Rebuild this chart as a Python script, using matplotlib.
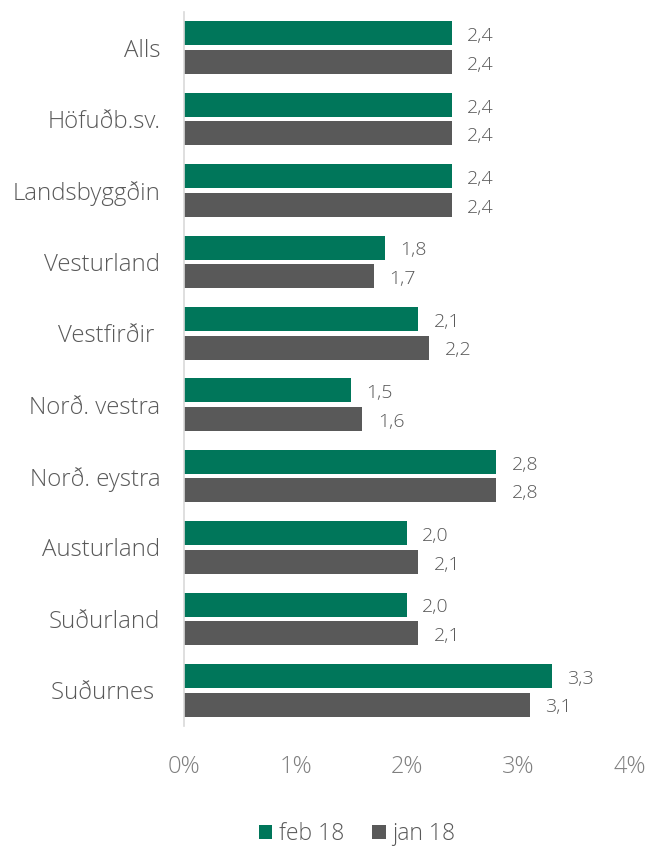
import numpy as np
import matplotlib.pyplot as plt

plt.rcParams['font.family'] = ['Open Sans', 'DejaVu Sans']
plt.rcParams['font.weight'] = 'light'

categories = ['Alls', 'Höfuðb.sv.', 'Landsbyggðin', 'Vesturland', 'Vestfirðir ',
              'Norð. vestra', 'Norð. eystra', 'Austurland', 'Suðurland', 'Suðurnes ']
feb18 = [2.4, 2.4, 2.4, 1.8, 2.1, 1.5, 2.8, 2.0, 2.0, 3.3]
jan18 = [2.4, 2.4, 2.4, 1.7, 2.2, 1.6, 2.8, 2.1, 2.1, 3.1]
ticks = [0, 1, 2, 3, 4]

green = '#00765A'
grey = '#595959'
txt = '#595959'

fig = plt.figure(figsize=(6.5, 8.48), dpi=100)
ax = fig.add_axes([184/650, 1-726/848, (630-184)/650, 714/848])

y = np.arange(len(categories))
h = 0.335
off = 0.2
b1 = ax.barh(y - off, feb18, height=h, color=green, label='feb 18')
b2 = ax.barh(y + off, jan18, height=h, color=grey, label='jan 18')

for bars, vals in ((b1, feb18), (b2, jan18)):
    for bar, v in zip(bars, vals):
        ax.annotate(f'{v:.1f}'.replace('.', ','),
                    (bar.get_width(), bar.get_y() + bar.get_height()/2),
                    xytext=(11, -2), textcoords='offset points',
                    ha='left', va='center', fontsize=14, color=txt)

ax.set_ylim(len(categories) - 0.5, -0.5)
ax.set_xlim(0, 4)
ax.set_yticks(y)
ax.set_yticklabels(categories)
ax.set_xticks(ticks)
ax.set_xticklabels([f'{t}%' for t in ticks])

for s in ['top', 'right', 'bottom']:
    ax.spines[s].set_visible(False)
ax.spines['left'].set_color('#D9D9D9')
ax.spines['left'].set_linewidth(1.2)

ax.tick_params(axis='y', length=0, pad=17, labelsize=17.3, labelcolor=txt)
ax.tick_params(axis='x', length=0, pad=21, labelsize=17, labelcolor='#7F7F7F')

fig.legend(handles=[b1, b2], loc='center', bbox_to_anchor=(357/650, 1-834/848),
           ncol=2, frameon=False, fontsize=16.5, handlelength=0.6, handleheight=0.6,
           handletextpad=0.3, columnspacing=1.2, labelcolor=txt)

fig.savefig('out.png', dpi=100)
